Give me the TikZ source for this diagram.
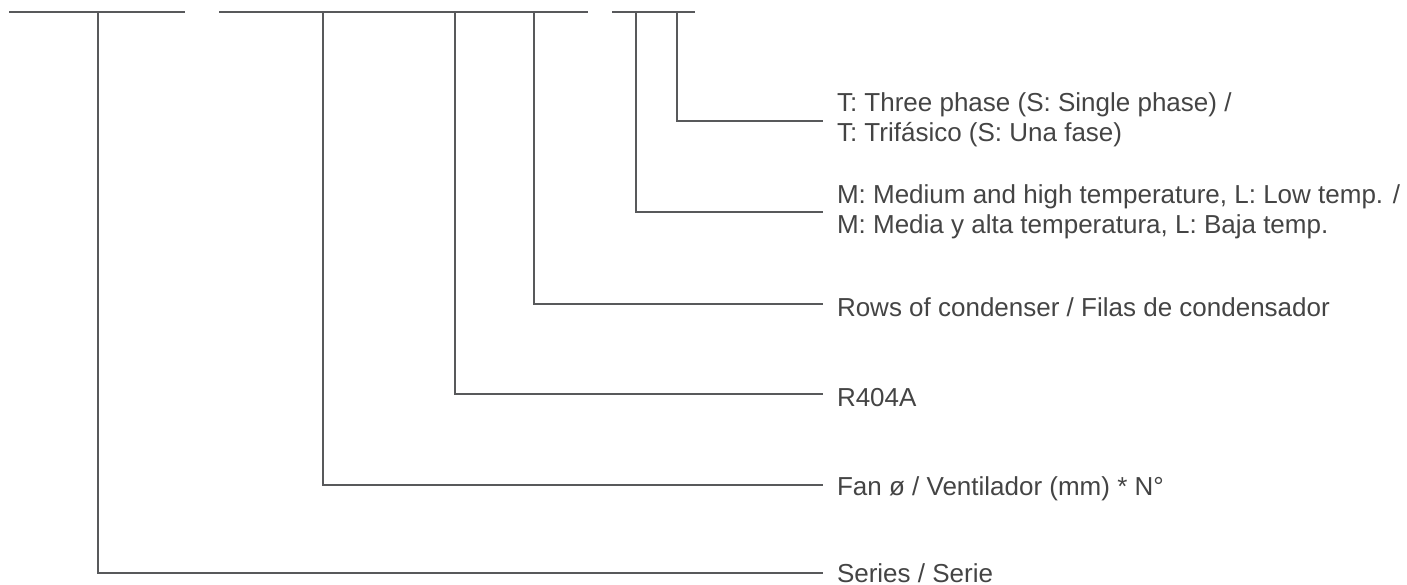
\documentclass[tikz,border=0pt]{standalone}
\usepackage{fontspec}
\setmainfont{Liberation Sans}
\definecolor{linegray}{HTML}{58595B}
\definecolor{textgray}{HTML}{444444}
\begin{document}
\begin{tikzpicture}[x=0.5pt, y=-0.5pt, line width=1pt, line join=miter, font=\fontsize{13}{15}\selectfont,
	lbl/.style={anchor=west, inner xsep=6.5pt, inner ysep=0pt, text=textgray, text height=12pt, text depth=0pt},
	lbltwo/.style={lbl, align=left, text height=20.7pt, text depth=0pt}]
	\useasboundingbox (0,0) rectangle (1407,584);
	\path
	(9,12.3) coordinate (A1) (185,12.3) coordinate (A2)
	(219,12.3) coordinate (B1) (429,12.3) coordinate (B2) (480,12.3) coordinate (B3) (588,12.3) coordinate (B4)
	(612,12.3) coordinate (C1) (663,12.3) coordinate (C2) (695,12.3) coordinate (C3)
	(98,12.3) coordinate (series) (323,12.3) coordinate (fan) (455,12.3) coordinate (gas)
	(534,12.3) coordinate (rows) (636,12.3) coordinate (temp) (677,12.3) coordinate (phase);
	\node[lbltwo] (Lphase) at (823,121) {T: Three phase (S: Single phase) /\\T: Trifásico (S: Una fase)};
	\node[lbltwo] (Ltemp) at (823,212.3) {M: Medium and high temperature, L: Low temp. /\\M: Media y alta temperatura, L: Baja temp.};
	\node[lbl] (Lrows) at (823,304.3) {Rows of condenser / Filas de condensador};
	\node[lbl, text height=11.7pt] (Lgas) at (823,394.3) {R404A};
	\node[lbl, text height=10.8pt] (Lfan) at (823,485) {Fan ø / Ventilador (mm) * N°};
	\node[lbl, text height=9pt] (Lseries) at (823,573.3) {Series / Serie};
	\draw[linegray] (A1)--(A2) (B1)--(B2)--(B3)--(B4) (C1)--(C2)--(C3);
	\foreach \i in {series, fan, gas, rows, temp, phase} \draw[linegray] (\i) |- (L\i.west);
\end{tikzpicture}
\end{document}
